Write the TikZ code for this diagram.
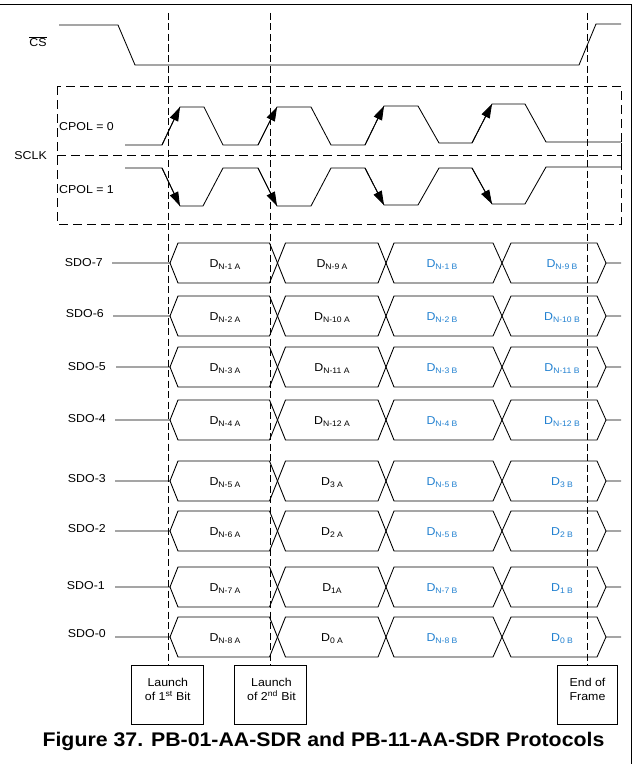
\documentclass[tikz,border=0pt]{standalone}
\usepackage{fontspec}
\setmainfont{Liberation Sans}[FakeStretch=1.08]
\usetikzlibrary{arrows.meta}
\definecolor{bblue}{RGB}{32,128,208}
\newcommand{\Dsub}[1]{D\raisebox{-2bp}{\fontsize{8}{9}\selectfont #1}}
% #1 centre y, #2 index, #3 label right x, #4 stub start x, #5 label centre y
\newcommand{\busrow}[5]{%
  \node[lbl, anchor=base east] (sdo#2) at (#3,#5+4.1) {SDO-#2};
  \coordinate (st#2) at (#4,#1);
  \draw[sig] (st#2) -- (170,#1) -- (178,#1-20) -- (269.5,#1-20) -- (285.5,#1+20) -- (378,#1+20) -- (394,#1-20) -- (493,#1-20) -- (511,#1+20) -- (597,#1+20) -- (606,#1) -- (621,#1);
  \draw[sig] (170,#1) -- (178,#1+20) -- (269.5,#1+20) -- (285.5,#1-20) -- (378,#1-20) -- (394,#1+20) -- (493,#1+20) -- (511,#1-20) -- (597,#1-20) -- (606,#1);
}
% #1 centre y, #2 index, #3..#6 subscripts
\newcommand{\cells}[6]{%
  \node[dat] (d#2a) at (225,#1+4) {\Dsub{#3}};
  \node[dat] (d#2b) at (332,#1+4) {\Dsub{#4}};
  \node[dat, text=bblue] (d#2c) at (442,#1+4) {\Dsub{#5}};
  \node[dat, text=bblue] (d#2d) at (562,#1+4) {\Dsub{#6}};
}
\begin{document}
\begin{tikzpicture}[x=1bp, y=-1bp,
  sig/.style={line width=0.85bp, line join=miter},
  vdash/.style={line width=0.8bp, dash pattern=on 7bp off 3.5bp},
  boxdash/.style={line width=0.8bp, dash pattern=on 9bp off 5bp},
  clkarrow/.style={line width=0.85bp, -{Triangle[length=14bp,width=9bp]}},
  lbl/.style={font=\fontsize{11.5}{13}\selectfont, inner sep=0pt},
  dat/.style={font=\fontsize{11.5}{13}\selectfont, inner sep=0pt, anchor=base},
  markbox/.style={draw, line width=0.8bp, minimum width=72bp, minimum height=59bp, inner sep=0pt},
  marktext/.style={align=center, font=\fontsize{11.5}{14}\selectfont, inner sep=0pt},
]
\useasboundingbox (0,0) rectangle (633,764);
% frame
\draw[line width=0.8bp] (0,4) -- (631,4) -- (631,764);

% chip select
\node[lbl, anchor=base] (cs) at (38,46.7) {$\overline{\hbox{CS}}$};
\draw[sig] (59,25) -- (118,25) -- (135,65) -- (579,65) -- (596,24) -- (621,24);

% SCLK dashed box
\draw[boxdash] (57,86) rectangle (621,224);
\draw[boxdash] (57,155) -- (621,155);
\draw[sig] (621,143) -- (621,167);
\node[lbl, anchor=base east] (sclk) at (47,159.3) {SCLK};
\node[lbl, anchor=base west] (cpol0) at (59,130.7) {CPOL = 0};
\node[lbl, anchor=base west] (cpol1) at (59,193.3) {CPOL = 1};

% CPOL = 0
\draw[sig] (125,145) -- (162,145) -- (180,107) -- (204,107) -- (223,145) -- (258,145) -- (277,107) -- (311,107) -- (331,145) -- (365,145) -- (384,106) -- (418,106) -- (439,143) -- (472,143) -- (492,104) -- (525,104) -- (546,142) -- (621,142);
\draw[clkarrow] (162,145) -- (180,107);
\draw[clkarrow] (258,145) -- (277,107);
\draw[clkarrow] (365,145) -- (384,106);
\draw[clkarrow] (472,143) -- (492,104);

% CPOL = 1
\draw[sig] (125,168) -- (162,168) -- (180,206) -- (203,206) -- (223,168) -- (258,168) -- (277,206) -- (311,206) -- (331,168) -- (365,168) -- (384,205) -- (418,205) -- (439,168) -- (472,168) -- (492,204) -- (525,204) -- (546,167) -- (621,167);
\draw[clkarrow] (162,168) -- (180,206);
\draw[clkarrow] (258,168) -- (277,206);
\draw[clkarrow] (365,168) -- (384,205);
\draw[clkarrow] (472,168) -- (492,204);

% data buses
\busrow{263}{7}{103}{112}{262}
\busrow{316}{6}{104}{113}{313}
\busrow{367}{5}{106}{116}{366}
\busrow{420}{4}{106}{115}{418}
\busrow{481}{3}{106}{115}{478}
\busrow{531}{2}{106}{115}{528}
\busrow{587}{1}{105}{115}{585}
\busrow{637}{0}{106}{115}{633}

\cells{263}{7}{N-1 A}{N-9 A}{N-1 B}{N-9 B}
\cells{316}{6}{N-2 A}{N-10 A}{N-2 B}{N-10 B}
\cells{367}{5}{N-3 A}{N-11 A}{N-3 B}{N-11 B}
\cells{420}{4}{N-4 A}{N-12 A}{N-4 B}{N-12 B}
\cells{481}{3}{N-5 A}{3 A}{N-5 B}{3 B}
\cells{531}{2}{N-6 A}{2 A}{N-5 B}{2 B}
\cells{587}{1}{N-7 A}{1A}{N-7 B}{1 B}
\cells{637}{0}{N-8 A}{0 A}{N-8 B}{0 B}

% event boxes
\node[markbox] (box1) at (167.3,694.5) {};
\node[markbox] (box2) at (270.8,694.5) {};
\node[markbox, minimum width=59.4bp] (box3) at (587.5,694.5) {};
\node[marktext] (t1) at (167.8,689.6) {Launch\\of 1\textsuperscript{st} Bit};
\node[marktext] (t2) at (271.5,689.6) {Launch\\of 2\textsuperscript{nd} Bit};
\node[marktext] (t3) at (587.5,689.6) {End of\\Frame};

% vertical dashed markers
\coordinate (v1) at (168,13);
\coordinate (v2) at (270,13);
\coordinate (v3) at (587,13);
\draw[vdash] (v1) -- (v1 |- box1.north);
\draw[vdash] (v2) -- (v2 |- box2.north);
\draw[vdash] (v3) -- (v3 |- box3.north);

% caption
\node[font=\fontsize{19.8}{22}\selectfont\bfseries, inner sep=0pt, anchor=base] (cap) at (323.5,746.7) {Figure 37. PB-01-AA-SDR and PB-11-AA-SDR Protocols};
\end{tikzpicture}
\end{document}
